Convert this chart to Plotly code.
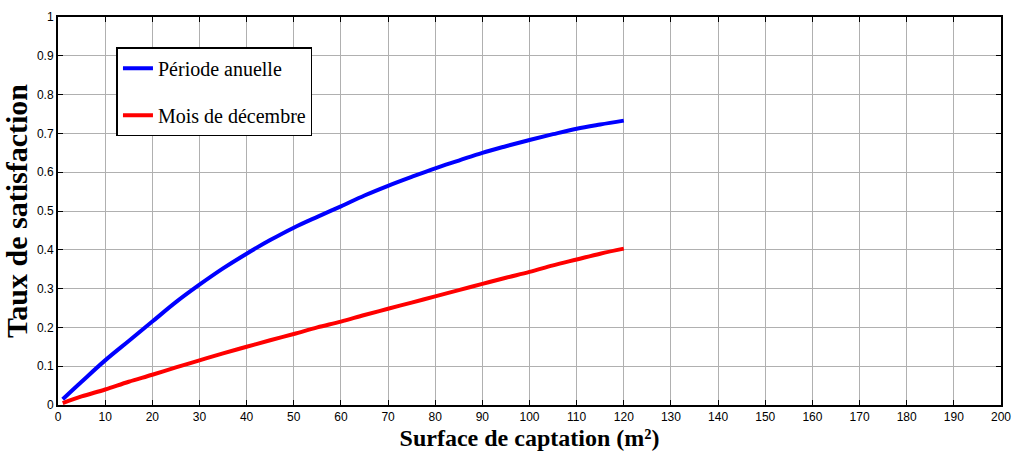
import plotly.graph_objects as go

surface = [1, 5, 10, 15, 20, 25, 30, 35, 40, 45, 50, 55, 60, 65, 70, 75, 80, 85, 90, 95, 100, 105, 110, 115, 120]
annuelle = [0.015, 0.06, 0.115, 0.165, 0.215, 0.265, 0.31, 0.352, 0.39, 0.425, 0.457, 0.485, 0.512, 0.54, 0.565,
            0.588, 0.61, 0.63, 0.65, 0.667, 0.683, 0.698, 0.712, 0.723, 0.733]
decembre = [0.005, 0.022, 0.04, 0.06, 0.078, 0.097, 0.115, 0.133, 0.15, 0.167, 0.183, 0.2, 0.215, 0.232, 0.248,
            0.264, 0.28, 0.296, 0.312, 0.328, 0.343, 0.36, 0.375, 0.39, 0.403]

fig = go.Figure()
fig.add_trace(go.Scatter(x=surface, y=annuelle, mode="lines", name="Période anuelle",
                         line=dict(color="#0000ff", width=4, shape="spline"), legendgroup="a"))
fig.add_trace(go.Scatter(x=surface, y=decembre, mode="lines", name="Mois de décembre",
                         line=dict(color="#ff0000", width=4, shape="spline"), legendgroup="b"))

axis_common = dict(showgrid=True, gridcolor="#b0b0b0", gridwidth=1, zeroline=False,
                   showline=True, linecolor="black", linewidth=2, mirror="ticks",
                   ticks="inside", ticklen=5, tickcolor="black",
                   tickfont=dict(family="Liberation Sans, Arial", size=12, color="black"))

fig.update_xaxes(range=[0, 200], dtick=10, tick0=0,
                 title=dict(text="<b>Surface de captation (m²)</b>", standoff=6,
                            font=dict(family="Liberation Serif, Times New Roman", size=24, color="black")),
                 **axis_common)
fig.update_yaxes(range=[0, 1], dtick=0.1, tick0=0,
                 title=dict(text="<b>Taux de satisfaction</b>", standoff=6,
                            font=dict(family="Liberation Serif, Times New Roman", size=30, color="black")),
                 **axis_common)

fig.update_layout(
    width=1021, height=464,
    margin=dict(l=58, r=13, t=10, b=59),
    plot_bgcolor="white", paper_bgcolor="white",
    legend=dict(x=0.062, y=0.922, xanchor="left", yanchor="top",
                bgcolor="white", bordercolor="black", borderwidth=1.5,
                font=dict(family="Liberation Serif, Times New Roman", size=20, color="black"),
                traceorder="grouped", tracegroupgap=18),
    showlegend=True,
)

fig.write_html("out.html")
